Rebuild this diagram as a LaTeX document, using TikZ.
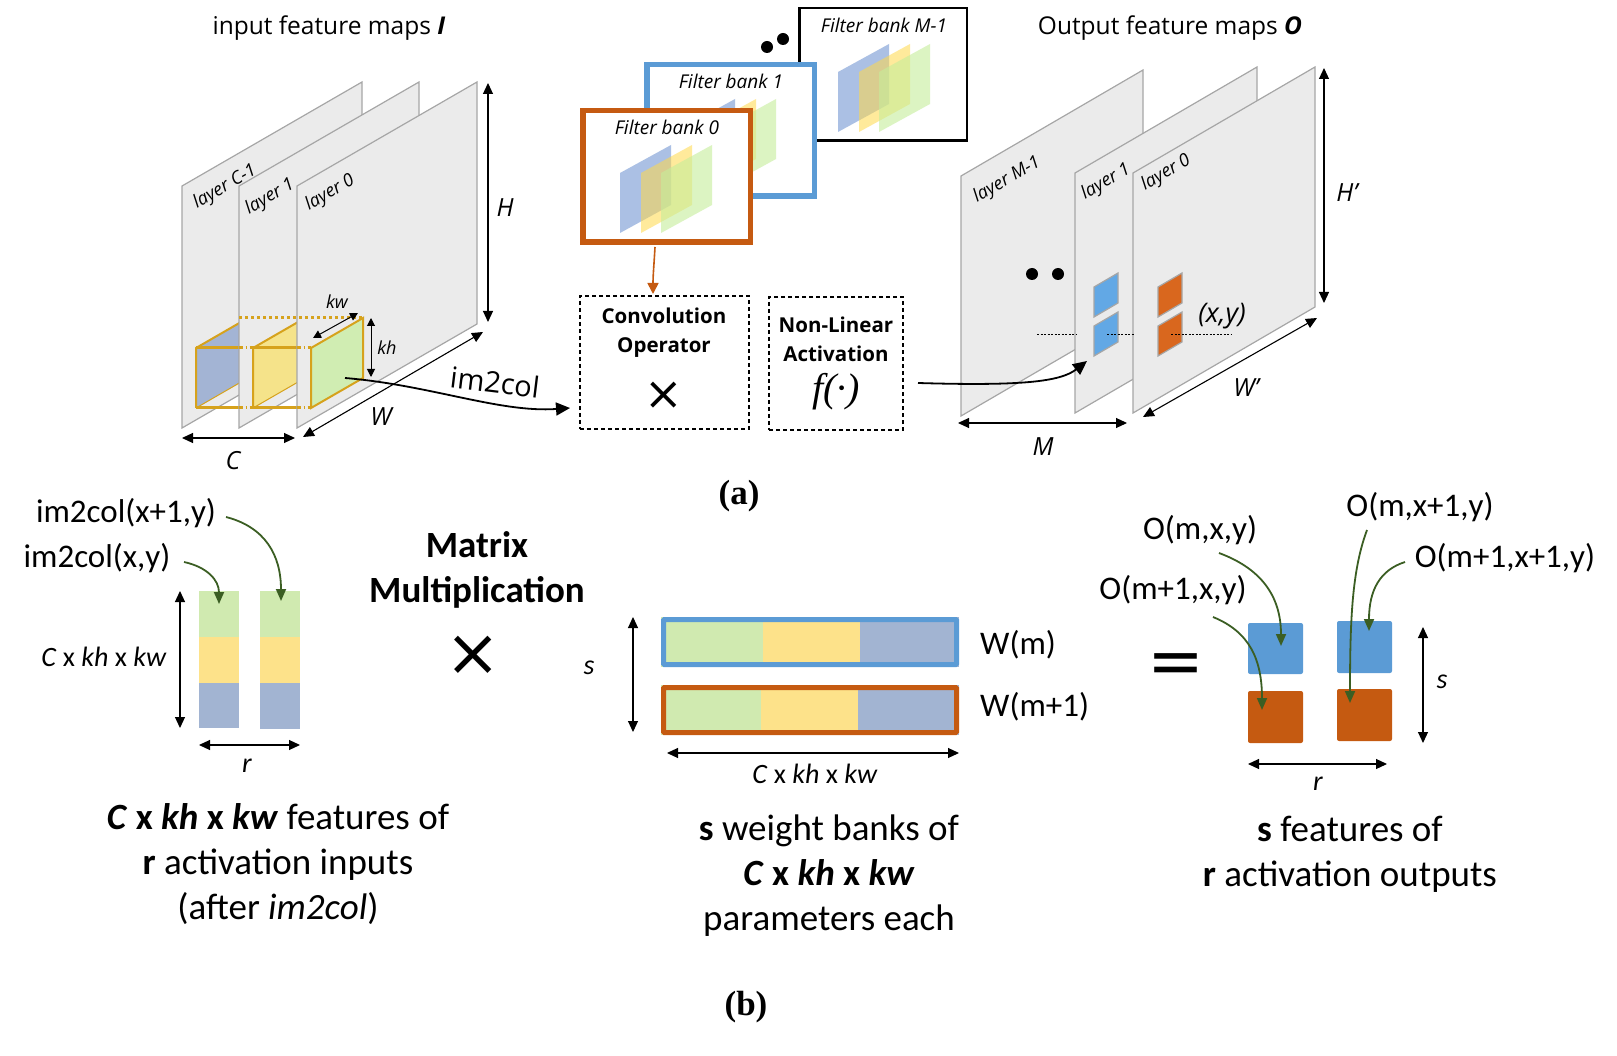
\documentclass[tikz,border=0pt]{standalone}
\usepackage{fontspec}
\setmainfont{Carlito}
\newfontfamily\osans{Open Sans}
\newfontfamily\capserif{Liberation Serif}
\newfontfamily\symfont{DejaVu Sans}
\usetikzlibrary{arrows.meta}
\newcommand\setfs[2]{\fontsize{#1}{#2}\selectfont}
\definecolor{planefill}{HTML}{EBEBEB}
\definecolor{planeedge}{HTML}{A6A6A6}
\definecolor{kblue}{HTML}{A3B4D4}
\definecolor{kyellow}{HTML}{F5E38A}
\definecolor{kgreen}{HTML}{D0EDB2}
\definecolor{kgold}{HTML}{D6A21C}
\definecolor{fbblue}{HTML}{5B9BD5}
\definecolor{fborange}{HTML}{C55A11}
\definecolor{mblue}{HTML}{7F9FD6}
\definecolor{myellow}{HTML}{FFD94A}
\definecolor{mgreen}{HTML}{C5EE9A}
\definecolor{sqblue}{HTML}{62A8E5}
\definecolor{sqorange}{HTML}{D9671E}
\definecolor{agreen}{HTML}{3B5E23}
\definecolor{cgreen}{HTML}{D0EAB0}
\definecolor{cyellow}{HTML}{FDE28A}
\definecolor{cblue}{HTML}{A2B4D2}
\newcommand\minifilt{%
  \fill[mblue,opacity=.65] (40,125) -- ++(0,-60) -- ++(51,-28) -- ++(0,60) -- cycle;
  \fill[myellow,opacity=.55] (61,125) -- ++(0,-60) -- ++(51,-28) -- ++(0,60) -- cycle;
  \fill[mgreen,opacity=.6] (81,125) -- ++(0,-60) -- ++(51,-28) -- ++(0,60) -- cycle;}
\newcommand\inplane[1]{\filldraw[plane] (#1,428) -- ++(0,-242) -- ++(180,-104) -- ++(0,242) -- cycle;}
\newcommand\outplane[2]{\filldraw[plane] (#1,#2) -- ++(0,-240) -- ++(182,-106) -- ++(0,240) -- cycle;}
\newcommand\inpatch[2]{\fill[#2] (#1+14,408) -- ++(0,-60) -- ++(52,-30) -- ++(0,60) -- cycle;}
\begin{document}
\begin{tikzpicture}[x=1pt,y=-1pt,
  plane/.style={fill=planefill,draw=planeedge,line width=1.2pt},
  dimarr/.style={line width=1.1pt,{Triangle[length=11pt,width=10pt]}-{Triangle[length=11pt,width=10pt]}},
  smallarr/.style={line width=1pt,{Triangle[length=8pt,width=8pt]}-{Triangle[length=8pt,width=8pt]}},
  bigarr/.style={line width=1.8pt,-{Triangle[length=14pt,width=13pt]}},
  oarr/.style={draw=fborange,line width=1.6pt,-{Triangle[length=11pt,width=11pt]}},
  garr/.style={draw=agreen,line width=1.8pt,-{Triangle[length=12pt,width=10pt]}},
  title/.style={inner sep=0,font={\osans\setfs{24.5}{29}}},
  laylab/.style={inner sep=0,rotate=30,font={\osans\itshape\setfs{18}{22}}},
  dimlab/.style={inner sep=0,font={\osans\itshape\setfs{25}{29}}},
  kdim/.style={inner sep=0,font={\osans\itshape\setfs{18}{22}}},
  fblab/.style={inner sep=0,font={\osans\itshape\setfs{19}{23}}},
  optext/.style={inner sep=0,align=center,font={\osans\bfseries\setfs{20.5}{29}}},
  opbox/.style={draw,line width=1.4pt,dash pattern=on 4pt off 3pt,minimum width=169pt,minimum height=133pt,inner sep=0},
  fbank/.style={fill=white,inner sep=0,minimum width=167.5pt,minimum height=131.5pt},
  blab/.style={inner sep=0,font={\setfs{33}{38}}},
  bital/.style={inner sep=0,font={\itshape\setfs{28}{32}}},
  bsmall/.style={inner sep=0,font={\setfs{28}{32}}},
  capt/.style={inner sep=0,align=center,font={\setfs{37}{45}}},
  sublab/.style={inner sep=0,font={\capserif\bfseries\setfs{35}{40}}},
  symb/.style={inner sep=0}
]
\useasboundingbox (0,0) rectangle (1617,1056);

% ================= (a) input feature maps =================
\node[title] (tin) at (329,28) {input feature maps \textbf{\textit{I}}};

\inplane{182}
\inpatch{182}{kblue}
\draw[kgold,line width=1pt] (196,408) -- ++(52,-30);
\draw[kgold,line width=2pt] (196,408) -- (196,348) -- ++(52,-30);
\draw[kgold,line width=3pt] (196,348) -- (253,348) (196,408) -- (253,408);

\inplane{239}
\inpatch{239}{kyellow}
\draw[kgold,line width=1pt] (253,408) -- ++(52,-30);
\draw[kgold,line width=2pt] (253,408) -- (253,348) -- ++(52,-30);
\draw[kgold,line width=3pt] (253,348) -- (311,348) (253,408) -- (311,408);

\inplane{297}
\inpatch{297}{kgreen}
\draw[kgold,line width=2pt] (311,408) -- (311,348) -- ++(52,-30) -- ++(0,60) -- cycle;

\draw[kgold,line width=3pt,dash pattern=on 4pt off 2.5pt on 1.5pt off 2.5pt]
  (239,348) -- (253,348) (239,408) -- (253,408) (297,348) -- (311,348) (297,408) -- (311,408);
\draw[kgold,line width=3pt,dash pattern=on 3pt off 3pt] (239,318) -- (363,318);

\node[laylab] (lc1) at (225,187) {layer C-1};
\node[laylab] (li1) at (270,197) {layer 1};
\node[laylab] (li0) at (330,193) {layer 0};

\coordinate (kw1) at (313,338); \coordinate (kw2) at (358,313);
\draw[smallarr] (kw1) -- (kw2);
\node[kdim] (kwl) at (337,302) {kw};
\coordinate (kh1) at (371,318); \coordinate (kh2) at (371,377);
\draw[smallarr] (kh1) -- (kh2);
\node[kdim] (khl) at (387,348) {kh};

\coordinate (h1) at (488,83); \coordinate (h2) at (488,322);
\draw[dimarr] (h1) -- (h2);
\node[dimlab] (hl) at (505,208) {H};
\coordinate (w1) at (303,437); \coordinate (w2) at (483,332);
\draw[dimarr] (w1) -- (w2);
\node[dimlab] (wl) at (381,417) {W};
\coordinate (c1) at (182,438); \coordinate (c2) at (295,438);
\draw[dimarr] (c1) -- (c2);
\node[dimlab] (cl) at (233,461) {C};

% ================= filter banks =================
\node[fbank,draw=black,line width=2.5pt,minimum width=167.5pt,minimum height=132.5pt] (fbm) at (883,74.5) {};
\begin{scope}[shift={(798,7)}]\minifilt\end{scope}
\node[fblab] (fbml) at (884,25) {Filter bank M-1};
\fill (767,47) circle[radius=6pt];
\fill (783,39) circle[radius=6pt];

\node[fbank,draw=fbblue,line width=5.5pt] (fb1) at (730.5,130.5) {};
\begin{scope}[shift={(644,62)}]\minifilt\end{scope}
\node[fblab] (fb1l) at (731,81) {Filter bank 1};

\node[fbank,draw=fborange,line width=5.5pt] (fb0) at (666.5,176.5) {};
\begin{scope}[shift={(580,108)}]\minifilt\end{scope}
\node[fblab] (fb0l) at (667,127) {Filter bank 0};

% ================= operators =================
\node[opbox] (conv) at (664.5,362.5) {};
\node[optext] (convt) at (664,333) {Convolution\\Operator};
\node[symb,font={\symfont\setfs{46}{50}}] (convx) at (664,396) {×};

\node[opbox,minimum width=134pt] (nl) at (836,363.5) {};
\node[optext] (nlt) at (836,339) {Non-Linear\\Activation};
\node[inner sep=0,font={\capserif\itshape\setfs{40}{44}}] (fdot) at (836,392) {f(·)};

\coordinate (fbout) at (655,247);
\coordinate (convin) at (653,294);
\draw[oarr] (fbout) .. controls (654,265) and (653,275) .. (convin);

\coordinate (ksrc) at (345,378);
\coordinate (im2dst) at (570,408);
\draw[bigarr] (ksrc) .. controls (430,385) and (500,413) .. (im2dst);
\node[inner sep=0,rotate=-7,font={\osans\setfs{29}{33}}] (im2l) at (495,382) {im2col};

% ================= output feature maps =================
\node[title] (tout) at (1170,28) {Output feature maps \textbf{\textit{O}}};

\outplane{961}{416}
\fill (1032,274) circle[radius=6pt];
\fill (1058,274) circle[radius=6pt];
\outplane{1075}{413}
\filldraw[fill=sqblue,draw=planeedge,line width=1.2pt] (1094,317) -- ++(0,-30) -- ++(24,-14) -- ++(0,30) -- cycle;
\filldraw[fill=sqblue,draw=planeedge,line width=1.2pt] (1094,356) -- ++(0,-30) -- ++(24,-14) -- ++(0,30) -- cycle;
\outplane{1133}{413}
\filldraw[fill=sqorange,draw=planeedge,line width=1.2pt] (1158,317) -- ++(0,-30) -- ++(24,-14) -- ++(0,30) -- cycle;
\filldraw[fill=sqorange,draw=planeedge,line width=1.2pt] (1158,356) -- ++(0,-30) -- ++(24,-14) -- ++(0,30) -- cycle;

\draw[line width=0.8pt,dash pattern=on 2pt off 1.5pt] (1037,334) -- (1076,334) (1107,334) -- (1134,334) (1171,334) -- (1231,334);

\node[laylab] (lom) at (1007,180) {layer M-1};
\node[laylab] (lo1) at (1106,182) {layer 1};
\node[laylab] (lo0) at (1166,173) {layer 0};
\node[inner sep=0,font={\osans\itshape\setfs{27}{31}}] (xy) at (1222,316) {(x,y)};

\coordinate (nlout) at (918,383);
\coordinate (outin) at (1087,361);
\draw[bigarr] (nlout) .. controls (1020,386) and (1060,382) .. (outin);

\coordinate (m1) at (958,423); \coordinate (m2) at (1127,423);
\draw[dimarr] (m1) -- (m2);
\node[dimlab] (ml) at (1043,447) {M};
\coordinate (wp1) at (1143,417); \coordinate (wp2) at (1317,318);
\draw[dimarr] (wp1) -- (wp2);
\node[dimlab] (wpl) at (1246,388) {W’};
\coordinate (hp1) at (1324,68); \coordinate (hp2) at (1324,303);
\draw[dimarr] (hp1) -- (hp2);
\node[dimlab] (hpl) at (1347,193) {H’};

\node[sublab] (suba) at (739,496) {(a)};

% ================= (b) =================
\node[blab] (ic2) at (126,513) {im2col(x+1,y)};
\node[blab] (ic1) at (97,558) {im2col(x,y)};

\fill[cgreen] (199,591) rectangle (239,637);
\fill[cyellow] (199,637) rectangle (239,683);
\fill[cblue] (199,683) rectangle (239,728);
\fill[cgreen] (260,591) rectangle (300,637);
\fill[cyellow] (260,637) rectangle (300,683);
\fill[cblue] (260,683) rectangle (300,729);

\coordinate (g1s) at (184,562); \coordinate (g1e) at (219,604);
\draw[garr] (g1s) .. controls (207,567) and (219,580) .. (g1e);
\coordinate (g2s) at (226,517); \coordinate (g2e) at (281,601);
\draw[garr] (g2s) .. controls (265,527) and (281,555) .. (g2e);

\coordinate (cv1) at (180,591); \coordinate (cv2) at (180,728);
\draw[dimarr] (cv1) -- (cv2);
\node[bsmall] (cvl) at (104,657) {\textit{C} x \textit{kh} x \textit{kw}};
\coordinate (r1) at (199,745); \coordinate (r2) at (300,745);
\draw[dimarr] (r1) -- (r2);
\node[bital] (rl) at (247,766) {r};

\node[inner sep=0,align=center,font={\bfseries\setfs{37}{45}}] (mm) at (477,570) {Matrix\\Multiplication};
\node[symb,font={\symfont\setfs{66}{70}}] (bx) at (473,656) {×};

\fill[cgreen] (661,617) rectangle (763,667);
\fill[cyellow] (763,617) rectangle (860,667);
\fill[cblue] (860,617) rectangle (959,667);
\draw[fbblue,line width=5pt,rounded corners=1pt] (663.5,619.5) rectangle (956.5,664.5);
\fill[cgreen] (661,685) rectangle (761,735);
\fill[cyellow] (761,685) rectangle (858,735);
\fill[cblue] (858,685) rectangle (959,735);
\draw[fborange,line width=5pt,rounded corners=1pt] (663.5,687.5) rectangle (956.5,732.5);
\node[blab,anchor=west] (wml) at (980,645) {W(m)};
\node[blab,anchor=west] (wm1l) at (980,707) {W(m+1)};

\coordinate (s1) at (633,617); \coordinate (s2) at (633,732);
\draw[dimarr] (s1) -- (s2);
\node[bital] (sl) at (589,668) {s};
\coordinate (ck1) at (667,753); \coordinate (ck2) at (959,753);
\draw[dimarr] (ck1) -- (ck2);
\node[bsmall] (ckl) at (815,774) {\textit{C} x \textit{kh} x \textit{kw}};

\node[symb,font={\symfont\setfs{68}{72}}] (eq) at (1176,669) {=};

\fill[fbblue,rounded corners=2pt] (1248,623) rectangle (1303,674);
\fill[fbblue,rounded corners=2pt] (1337,621) rectangle (1392,673);
\fill[fborange,rounded corners=2pt] (1248,691) rectangle (1303,743);
\fill[fborange,rounded corners=2pt] (1337,689) rectangle (1392,741);

\node[blab] (o1) at (1200,530) {O(m,x,y)};
\node[blab] (o2) at (1173,590) {O(m+1,x,y)};
\node[blab] (o3) at (1420,507) {O(m,x+1,y)};
\node[blab] (o4) at (1505,558) {O(m+1,x+1,y)};

\coordinate (a1s) at (1219,553); \coordinate (a1e) at (1281,646);
\draw[garr] (a1s) .. controls (1265,570) and (1281,600) .. (a1e);
\coordinate (a2s) at (1213,617); \coordinate (a2e) at (1262,710);
\draw[garr] (a2s) .. controls (1250,632) and (1262,660) .. (a2e);
\coordinate (a3s) at (1367,530); \coordinate (a3e) at (1350,703);
\draw[garr] (a3s) .. controls (1352,570) and (1350,620) .. (a3e);
\coordinate (a4s) at (1405,562); \coordinate (a4e) at (1369,631);
\draw[garr] (a4s) .. controls (1380,570) and (1369,590) .. (a4e);

\coordinate (so1) at (1423,627); \coordinate (so2) at (1423,743);
\draw[dimarr] (so1) -- (so2);
\node[bital] (sol) at (1442,682) {s};
\coordinate (ro1) at (1248,764); \coordinate (ro2) at (1387,764);
\draw[dimarr] (ro1) -- (ro2);
\node[bital] (rol) at (1318,784) {r};

\node[capt] (capl) at (278,864) {\textbf{\textit{C} x \textit{kh} x \textit{kw}} features of\\\textbf{r} activation inputs\\(after \textit{im2col})};
\node[capt] (capm) at (829,876) {\textbf{s} weight banks of\\\textbf{\textit{C} x \textit{kh} x \textit{kw}}\\parameters each};
\node[capt] (capr) at (1350,854) {\textbf{s} features of\\\textbf{r} activation outputs};

\node[sublab] (subb) at (746,1007) {(b)};
\end{tikzpicture}
\end{document}
